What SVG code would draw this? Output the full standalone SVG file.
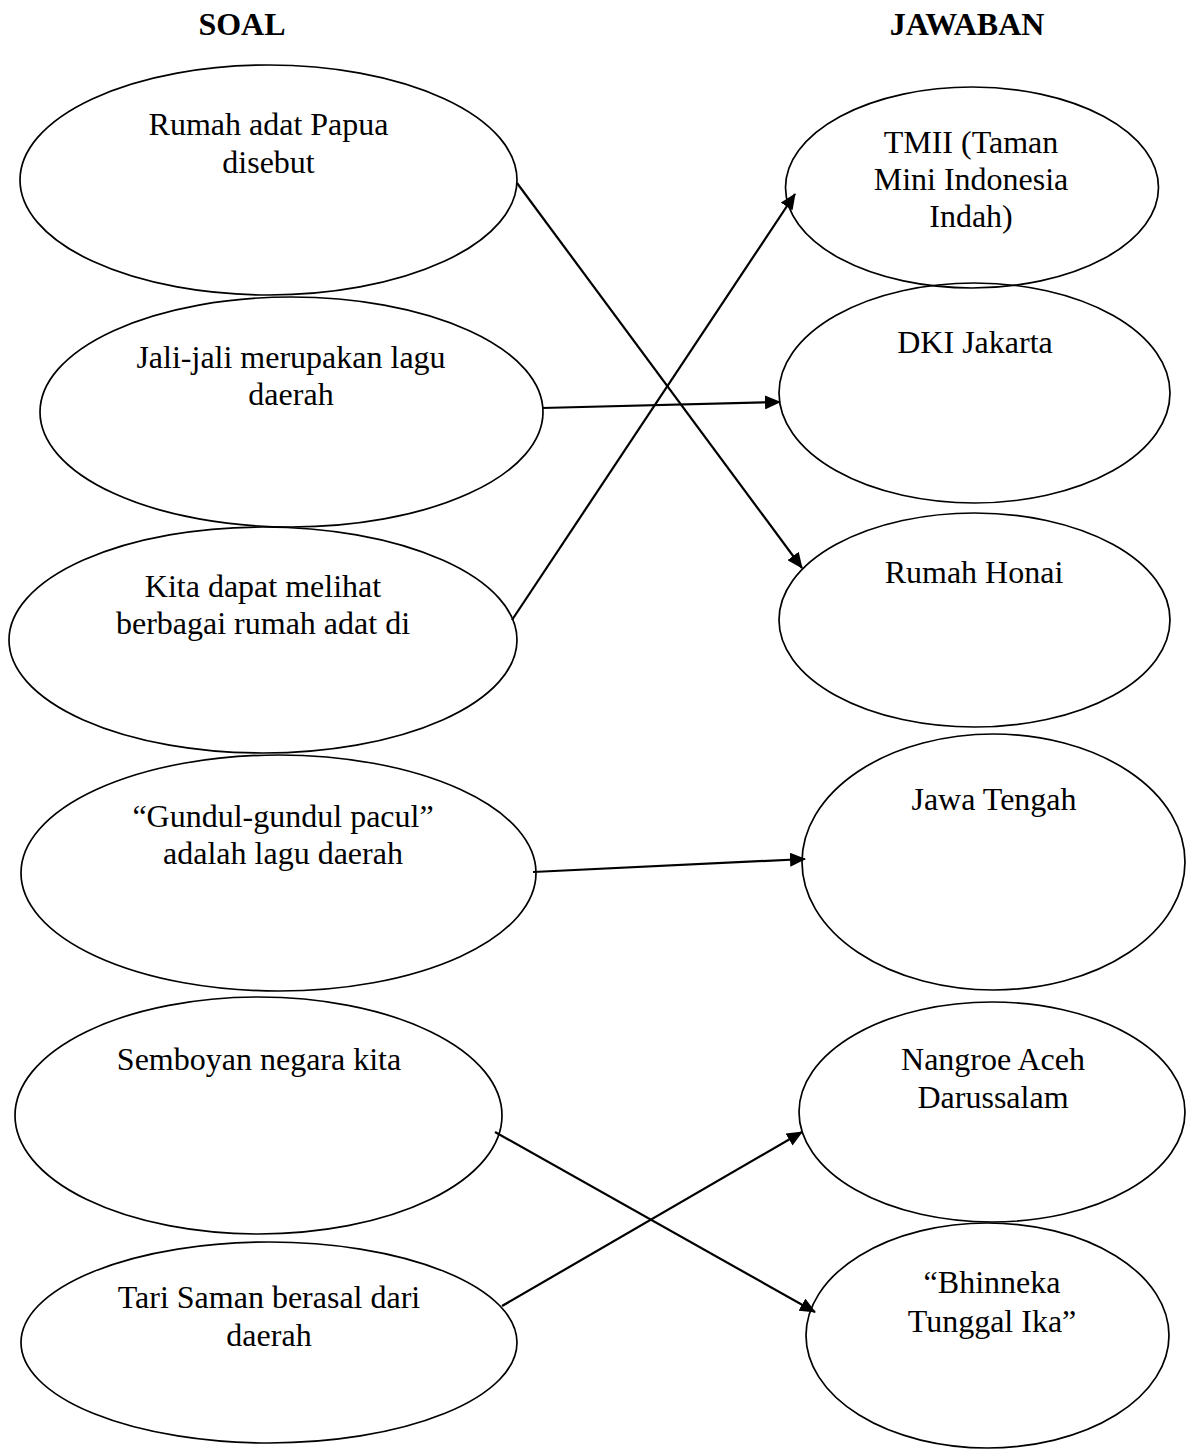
<svg xmlns="http://www.w3.org/2000/svg" width="1195" height="1449" viewBox="0 0 1195 1449">
<style>
.n{fill:none;stroke:#000;stroke-width:1.7}
.t{font-family:"Liberation Serif","Times New Roman",serif;font-size:32px;fill:#000;text-anchor:middle}
.h{font-family:"Liberation Serif","Times New Roman",serif;font-size:32px;font-weight:bold;fill:#000;text-anchor:middle}
.c{stroke:#000;stroke-width:2.2;fill:none;marker-end:url(#ah)}
</style>
<defs>
<marker id="ah" viewBox="0 0 16 14" refX="15" refY="7" markerWidth="16" markerHeight="14" markerUnits="userSpaceOnUse" orient="auto">
<path d="M0,0 L16,7 L0,14 z" fill="#000"/>
</marker>
</defs>
<rect width="1195" height="1449" fill="#fff"/>
<text class="h" x="242" y="35">SOAL</text>
<text class="h" x="967" y="35">JAWABAN</text>
<g id="s1"><ellipse class="n" cx="268.5" cy="180" rx="248.5" ry="115"/><text class="t" x="268.5" y="135">Rumah adat Papua</text><text class="t" x="268.5" y="173">disebut</text></g>
<g id="s2"><ellipse class="n" cx="291.5" cy="412" rx="251.5" ry="115"/><text class="t" x="291" y="368">Jali-jali merupakan lagu</text><text class="t" x="291" y="405">daerah</text></g>
<g id="s3"><ellipse class="n" cx="263" cy="640" rx="254" ry="113"/><text class="t" x="263" y="597">Kita dapat melihat</text><text class="t" x="263" y="634">berbagai rumah adat di</text></g>
<g id="s4"><ellipse class="n" cx="278.5" cy="873" rx="257.5" ry="118"/><text class="t" x="283" y="827">“Gundul-gundul pacul”</text><text class="t" x="283" y="864">adalah lagu daerah</text></g>
<g id="s5"><ellipse class="n" cx="258.5" cy="1115.5" rx="243.5" ry="118.5"/><text class="t" x="259" y="1070">Semboyan negara kita</text></g>
<g id="s6"><ellipse class="n" cx="269" cy="1342.5" rx="248" ry="100.5"/><text class="t" x="269" y="1308">Tari Saman berasal dari</text><text class="t" x="269" y="1346">daerah</text></g>
<g id="j1"><ellipse class="n" cx="972" cy="187.5" rx="186.5" ry="100.5"/><text class="t" x="971" y="153">TMII (Taman</text><text class="t" x="971" y="190">Mini Indonesia</text><text class="t" x="971" y="227">Indah)</text></g>
<g id="j2"><ellipse class="n" cx="974.5" cy="393" rx="195.5" ry="110"/><text class="t" x="975" y="353">DKI Jakarta</text></g>
<g id="j3"><ellipse class="n" cx="974.5" cy="620" rx="195.5" ry="107"/><text class="t" x="974" y="583">Rumah Honai</text></g>
<g id="j4"><ellipse class="n" cx="993.5" cy="862" rx="191.5" ry="128"/><text class="t" x="994" y="810">Jawa Tengah</text></g>
<g id="j5"><ellipse class="n" cx="992" cy="1112" rx="193" ry="110"/><text class="t" x="993" y="1070">Nangroe Aceh</text><text class="t" x="993" y="1108">Darussalam</text></g>
<g id="j6"><ellipse class="n" cx="987.5" cy="1335.5" rx="181.5" ry="112.5"/><text class="t" x="992" y="1293">“Bhinneka</text><text class="t" x="992" y="1332">Tunggal Ika”</text></g>
<g id="connectors">
<line class="c" x1="517" y1="183" x2="802" y2="568"/>
<line class="c" x1="542" y1="408" x2="780" y2="402"/>
<line class="c" x1="512" y1="620" x2="795" y2="194"/>
<line class="c" x1="533" y1="872" x2="805" y2="859"/>
<line class="c" x1="495" y1="1132" x2="815" y2="1312"/>
<line class="c" x1="502" y1="1306" x2="802" y2="1132"/>
</g>
</svg>
